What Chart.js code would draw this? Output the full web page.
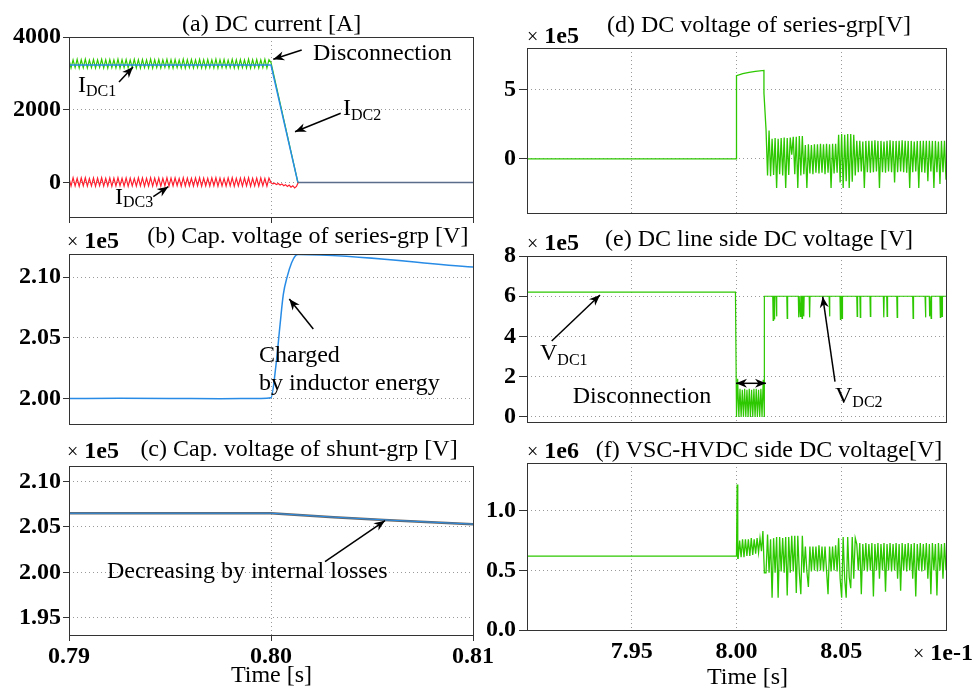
<!DOCTYPE html>
<html>
<head>
<meta charset="utf-8">
<script src="https://cdn.jsdelivr.net/npm/chart.js@4.4.1/dist/chart.umd.min.js"></script>
<style>
html, body { margin: 0; padding: 0; background: #fff; }
#wrap { position: relative; width: 974px; height: 693px; overflow: hidden; background: #fff; }
canvas { position: absolute; }
</style>
</head>
<body>
<div id="wrap">
  <canvas id="pa"></canvas>
  <canvas id="pb"></canvas>
  <canvas id="pc"></canvas>
  <canvas id="pd"></canvas>
  <canvas id="pe"></canvas>
  <canvas id="pf"></canvas>
</div>
<script>
// ---- time axis (s) ----
const tStart = 0.79, tCut = 0.80, tOff = 0.80133, tEnd = 0.81;
const leftTicks = [0.79, 0.80, 0.81];
const rightTicks = [0.79, 0.795, 0.80, 0.805, 0.81];

// ---- (a) DC current [A] ----
const idc2Level = 3230;
const idc1Ripple = [
  3380,3150,3370,3160,3385,3145,3375,3155,3390,3150,
  3365,3160,3380,3150,3370,3165,3385,3150,3375,3145,
  3380,3160,3370,3150,3390,3145,3375,3160,3380,3150,
  3365,3160,3385,3150,3375,3145,3380,3160,3370,3150,
  3390,3145,3375,3160,3380,3150,3370,3165,3385,3150,
  3375,3145,3380,3160,3365,3150,3390,3145,3375,3160,
  3380,3150,3370,3160,3385,3150,3375,3145,3380,3160,
  3370,3150,3390,3145,3375,3160,3380,3150,3365,3160,
  3385,3150,3375,3145,3380,3160,3370,3150,3390,3145,
  3375,3160,3380,3150,3370,3160,3385,3150,3375,3300
];
const idc3Ripple = [
  120,-100,130,-95,115,-105,125,-90,130,-100,
  110,-95,125,-105,120,-90,130,-100,115,-95,
  125,-105,120,-95,130,-90,115,-100,125,-105,
  120,-95,110,-100,130,-90,125,-105,115,-95,
  130,-100,120,-90,125,-105,115,-95,130,-100,
  120,-95,125,-90,110,-105,130,-100,120,-95,
  115,-100,125,-90,130,-105,120,-95,115,-100,
  125,-90,130,-105,120,-95,110,-100,125,-90,
  130,-105,115,-95,120,-100,125,-90,130,-105,
  115,-95,120,-100,125,-90,110,-100,120,-10
];
const idc3Tail = [-10,-40,-20,-60,-30,-70,-40,-90,-60,-110,-70,-130,-90,-150,-110,0];

// ---- (b) Cap. voltage of series-grp (x1e5 V) ----
const capSeriesTimes = [0.79, 0.7925, 0.795, 0.7975, 0.7995, 0.80, 0.80025, 0.80045, 0.80061, 0.80081, 0.80102, 0.80119, 0.80135, 0.81];
const capSeriesV     = [2.000, 2.0002, 2.0001, 1.9998, 2.0000, 2.0006, 2.028, 2.061, 2.0857, 2.1008, 2.1118, 2.1172, 2.1186, 2.1082];

// ---- (c) Cap. voltage of shunt-grp (x1e5 V) ----
const capShuntTimes = [0.79, 0.80, 0.8031, 0.8056, 0.81];
const capShuntV     = [2.065, 2.065, 2.0607, 2.0577, 2.053];

// ---- (d) DC voltage of series-grp (x1e5 V) ----
const dStepTimes = [0.79, 0.80, 0.80, 0.8003, 0.8006, 0.8009, 0.80131, 0.80131];
const dStepV     = [0, 0, 6.0, 6.15, 6.25, 6.32, 6.38, 4.76];
const dNoise = [
  2.1,-1.2,2.05,-1.25,1.45,-1.15,1.5,-2.1,1.45,-1.1,1.5,-1.2,1.55,-2.1,1.5,-1.15,1.55,0.3,1.6,-1.1,1.6,-2.1,1.65,-1.2,1.65,-1.1,
  1.0,-2.1,1.05,-1.05,1.0,-1.1,1.05,-1.0,1.05,-1.05,1.1,-1.0,1.05,-1.1,1.1,-1.0,1.05,-2.1,1.1,-1.05,1.1,-1.0,
  1.75,-1.7,1.8,-2.1,1.75,-1.6,1.8,-2.1,1.8,-1.65,1.75,-1.2,
  1.3,-0.95,1.3,-0.9,1.25,-2.1,1.3,-0.95,1.3,-1.0,1.3,-0.95,1.35,-0.9,1.3,-2.1,1.3,-0.95,1.25,-1.0,
  1.3,-0.9,1.35,-0.95,1.3,-1.7,1.3,-0.95,1.3,-0.9,1.35,-0.95,1.3,-1.0,1.3,-2.1,1.3,-0.95,1.25,-0.9,
  1.3,-2.1,1.3,-0.95,1.3,-1.0,1.3,-1.6,1.3,-0.9,1.3,-2.1,1.3,-0.95,1.25,-1.8,1.3,-0.95,1.3,-1.5
];

// ---- (e) DC line side DC voltage (x1e5 V) ----
const vdc1Level = 6.2, vdc2Level = 6.0;
const eGap = [0,1.9,0,1.4,0,1.35,0,1.4,0,1.35,0,1.4,0,1.35,0,1.4,0,1.4,0,1.35,0,1.4,0,1.85,0];
const vdc2SpikeTimes  = [0.80173,0.80179,0.80189,0.80240,0.80295,0.80303,0.80311,0.80319,0.80347,0.80442,0.80494,0.80502,
                         0.80574,0.80589,0.80637,0.80701,0.80717,0.80765,0.80841,0.80900,0.80920,0.80927,0.80971,0.80979];
const vdc2SpikeDepths = [4.8,4.85,5.0,4.9,4.95,5.0,4.9,5.0,4.95,5.0,4.85,4.9,
                         5.0,4.95,5.0,4.95,5.0,4.95,4.9,4.95,5.0,4.9,4.95,5.0];

// ---- (f) VSC-HVDC side DC voltage (x1e6 V) ----
const fStepTimes = [0.79, 0.80, 0.80003, 0.80006];
const fStepV     = [0.62, 0.62, 1.22, 0.60];
const fGap = [0.60,0.75,0.61,0.76,0.61,0.76,0.62,0.76,0.62,0.77,0.63,0.76,0.64,0.77,0.65,0.77,0.66,0.83,0.48];
const fNoise = [
  0.48,0.80,0.48,0.76,0.27,0.77,0.48,0.78,0.27,0.78,0.49,0.77,0.48,0.78,0.29,0.78,0.48,0.79,0.49,0.79,0.31,0.79,0.48,0.30,0.79,0.48,
  0.70,0.49,0.36,0.70,0.49,0.70,0.50,0.70,0.49,0.71,0.50,0.70,0.49,0.70,0.50,0.30,0.70,0.49,0.70,0.50,0.71,0.49,
  0.77,0.43,0.27,0.78,0.43,0.27,0.78,0.44,0.35,0.78,0.43,0.77,
  0.72,0.50,0.73,0.30,0.72,0.50,0.73,0.49,0.72,0.50,0.73,0.28,0.72,0.50,0.73,0.43,0.72,0.50,0.73,0.32,
  0.72,0.50,0.73,0.49,0.72,0.50,0.73,0.43,0.72,0.33,0.73,0.50,0.72,0.49,0.73,0.50,0.72,0.43,0.73,0.28,
  0.72,0.50,0.73,0.49,0.72,0.50,0.73,0.43,0.72,0.30,0.73,0.50,0.72,0.29,0.73,0.50,0.72,0.43,0.73,0.50
];

// ---- helpers ----
const GREEN = 'rgb(45,200,0)', RED = 'rgb(255,30,45)', BLUE = 'rgb(40,140,230)', SLATE = 'rgb(90,110,140)';
const FONT = '"Liberation Serif", "Times New Roman", serif';

function spread(t0, t1, vals) {
  // evenly sampled signal between t0 and t1
  return vals.map((v, i) => ({ x: t0 + (t1 - t0) * i / (vals.length - 1), y: v }));
}
function pairs(ts, vs) {
  return ts.map((t, i) => ({ x: t, y: vs[i] }));
}
function line(points, color, width) {
  return { data: points, borderColor: color, borderWidth: width || 1, pointRadius: 0, tension: 0, fill: false };
}

function vdc2Points() {
  const pts = [{ x: tOff, y: vdc2Level }];
  vdc2SpikeTimes.forEach((t, i) => {
    pts.push({ x: t, y: vdc2Level }, { x: t + 0.00002, y: vdc2SpikeDepths[i] }, { x: t + 0.00004, y: vdc2Level });
  });
  pts.push({ x: tEnd, y: vdc2Level });
  return pts;
}

// draws frame, titles, multipliers, labels and arrows
const decorPlugin = {
  id: 'decor',
  afterDraw(chart, args, o) {
    const ctx = chart.ctx, a = chart.chartArea, ox = o.box.x, oy = o.box.y;
    ctx.save();
    ctx.strokeStyle = '#333';
    ctx.lineWidth = 1;
    ctx.setLineDash([]);
    ctx.strokeRect(Math.round(a.left) + 0.5, Math.round(a.top) + 0.5, Math.round(a.right - a.left), Math.round(a.bottom - a.top));

    ctx.fillStyle = '#000';
    ctx.textBaseline = 'alphabetic';
    (o.texts || []).forEach(tx => {
      let total = 0;
      tx.runs.forEach(r => {
        ctx.font = (r[2] ? 'bold ' : '') + r[1] + 'px ' + FONT;
        total += ctx.measureText(r[0]).width;
      });
      let x = tx.x - ox;
      if (tx.align === 'center') x -= total / 2;
      tx.runs.forEach(r => {
        ctx.font = (r[2] ? 'bold ' : '') + r[1] + 'px ' + FONT;
        ctx.textAlign = 'left';
        ctx.fillText(r[0], x, tx.y - oy + (r[3] || 0));
        x += ctx.measureText(r[0]).width;
      });
    });

    ctx.strokeStyle = '#000';
    ctx.lineWidth = 1.5;
    (o.arrows || []).forEach(ar => {
      const x1 = ar[0] - ox, y1 = ar[1] - oy, x2 = ar[2] - ox, y2 = ar[3] - oy;
      ctx.beginPath();
      ctx.moveTo(x1, y1);
      ctx.lineTo(x2, y2);
      ctx.stroke();
      head(ctx, x1, y1, x2, y2);
      if (ar[4]) head(ctx, x2, y2, x1, y1);
    });
    ctx.restore();
  }
};
function head(ctx, x1, y1, x2, y2) {
  const ang = Math.atan2(y2 - y1, x2 - x1), L = 11, W = 4.5;
  ctx.beginPath();
  ctx.moveTo(x2, y2);
  ctx.lineTo(x2 - L * Math.cos(ang) + W * Math.sin(ang), y2 - L * Math.sin(ang) - W * Math.cos(ang));
  ctx.lineTo(x2 - L * 0.7 * Math.cos(ang), y2 - L * 0.7 * Math.sin(ang));
  ctx.lineTo(x2 - L * Math.cos(ang) - W * Math.sin(ang), y2 - L * Math.sin(ang) + W * Math.cos(ang));
  ctx.closePath();
  ctx.fillStyle = '#000';
  ctx.fill();
}

const tickFont = { family: FONT, size: 24, weight: 'bold' };

function makePanel(id, p) {
  const cv = document.getElementById(id);
  const box = p.box, plot = p.plot;
  cv.width = box.w; cv.height = box.h;
  cv.style.left = box.x + 'px'; cv.style.top = box.y + 'px';
  const yW = p.right ? 40 : 60, xH = p.xH;
  const yTl = p.right ? 8 : 6, yPad = p.right ? 3 : 2;
  new Chart(cv, {
    type: 'line',
    data: { datasets: p.datasets },
    options: {
      responsive: false,
      animation: false,
      events: [],
      layout: { padding: { left: plot.l - box.x - yW, top: plot.t - box.y, right: box.x + box.w - plot.r, bottom: box.y + box.h - plot.b - xH } },
      plugins: {
        legend: { display: false },
        tooltip: { enabled: false },
        decor: { box: box, texts: p.texts, arrows: p.arrows }
      },
      scales: {
        x: {
          type: 'linear', min: tStart, max: tEnd,
          afterBuildTicks: s => { s.ticks = (p.right ? rightTicks : leftTicks).map(v => ({ value: v })); },
          afterFit: s => { s.height = xH; s.paddingLeft = 0; s.paddingRight = 0; },
          ticks: {
            display: !!p.xLabels, autoSkip: false, maxRotation: 0, minRotation: 0,
            font: tickFont, color: '#000', padding: p.xPad || 1,
            callback: (v, i, arr) => p.right
              ? ((i === 0 || i === arr.length - 1) ? '' : (v * 10).toFixed(2))
              : v.toFixed(2)
          },
          grid: { color: '#9a9a9a', lineWidth: 1, drawTicks: !!p.xTickMarks, tickLength: 6, tickColor: '#333', tickBorderDash: [] },
          border: { display: false, dash: [1, 3] }
        },
        y: {
          type: 'linear', min: p.yMin, max: p.yMax,
          afterBuildTicks: s => { s.ticks = p.yTicks.map(v => ({ value: v })); },
          afterFit: s => { s.width = yW; s.paddingTop = 0; s.paddingBottom = 0; },
          ticks: { font: tickFont, color: '#000', padding: yPad, autoSkip: false, callback: v => v.toFixed(p.yDec) },
          grid: { color: '#9a9a9a', lineWidth: 1, drawTicks: true, tickLength: yTl, tickColor: '#333', tickBorderDash: [] },
          border: { display: false, dash: [1, 3] }
        }
      }
    },
    plugins: [decorPlugin]
  });
}

const X = s => [['\u00d7', 20], [' ' + s, 24, true]];

makePanel('pa', {
  box: { x: 0, y: 0, w: 500, h: 230 }, plot: { l: 69, t: 37, r: 473, b: 217 }, xH: 10, xTickMarks: true,
  yMin: -950, yMax: 4000, yTicks: [0, 2000, 4000], yDec: 0,
  datasets: [
    line([{ x: tOff, y: 0 }, { x: tEnd, y: 0 }], SLATE, 1.5),
    line(pairs([tStart, tCut, tOff], [idc2Level, idc2Level, 0]), BLUE, 1.5),
    line(spread(tStart, tCut, idc1Ripple).concat([{ x: tOff, y: 0 }]), GREEN, 1.2),
    line(spread(tStart, tCut, idc3Ripple).concat(spread(tCut, 0.80135, idc3Tail)), RED, 1.2)
  ],
  texts: [
    { x: 271.7, y: 31, align: 'center', runs: [['(a) DC current [A]', 24]] },
    { x: 313, y: 60, runs: [['Disconnection', 24]] },
    { x: 78, y: 91.5, runs: [['I', 24], ['DC1', 16, false, 4]] },
    { x: 343, y: 115, runs: [['I', 24], ['DC2', 16, false, 5]] },
    { x: 115, y: 204, runs: [['I', 24], ['DC3', 16, false, 3]] }
  ],
  arrows: [[301.7, 50, 273.3, 59.3], [119, 82, 133, 67], [340.7, 113.3, 295, 131.7], [153.3, 196.7, 168.3, 186.7]]
});

makePanel('pb', {
  box: { x: 0, y: 224, w: 500, h: 210 }, plot: { l: 69, t: 254, r: 473, b: 424 }, xH: 8,
  yMin: 1.979, yMax: 2.119, yTicks: [2.00, 2.05, 2.10], yDec: 2,
  datasets: [
    Object.assign(line(pairs(capSeriesTimes, capSeriesV), BLUE, 1.5), { cubicInterpolationMode: 'monotone' })
  ],
  texts: [
    { x: 307.8, y: 243.3, align: 'center', runs: [['(b) Cap. voltage of series-grp [V]', 24]] },
    { x: 67, y: 248, runs: X('1e5') },
    { x: 259, y: 361.7, runs: [['Charged', 24]] },
    { x: 259, y: 390, runs: [['by inductor energy', 24]] }
  ],
  arrows: [[313.3, 329, 289.3, 299]]
});

makePanel('pc', {
  box: { x: 0, y: 434, w: 500, h: 259 }, plot: { l: 69, t: 466, r: 473, b: 635 }, xH: 30, xLabels: true, xTickMarks: true, xPad: 1,
  yMin: 1.931, yMax: 2.117, yTicks: [1.95, 2.00, 2.05, 2.10], yDec: 2,
  datasets: [
    line(pairs(capShuntTimes, capShuntV), BLUE, 1),
    line(pairs(capShuntTimes, capShuntV), '#666', 2.5)
  ],
  texts: [
    { x: 299, y: 456, align: 'center', runs: [['(c) Cap. voltage of shunt-grp [V]', 24]] },
    { x: 67, y: 458, runs: X('1e5') },
    { x: 107, y: 578, runs: [['Decreasing by internal losses', 24]] },
    { x: 271.5, y: 682, align: 'center', runs: [['Time [s]', 24]] }
  ],
  arrows: [[325, 561.7, 385, 520.7]]
});

makePanel('pd', {
  right: true, box: { x: 480, y: 0, w: 494, h: 230 }, plot: { l: 527, t: 48, r: 946, b: 213 }, xH: 8,
  yMin: -3.9, yMax: 8, yTicks: [0, 5], yDec: 0,
  datasets: [
    line(pairs(dStepTimes, dStepV).concat(spread(0.80141, tEnd, dNoise)), GREEN, 1.3)
  ],
  texts: [
    { x: 759, y: 31.7, align: 'center', runs: [['(d) DC voltage of series-grp[V]', 24]] },
    { x: 527, y: 43, runs: X('1e5') }
  ]
});

makePanel('pe', {
  right: true, box: { x: 480, y: 228, w: 494, h: 206 }, plot: { l: 527, t: 256, r: 946, b: 422 }, xH: 8,
  yMin: -0.25, yMax: 8, yTicks: [0, 2, 4, 6, 8], yDec: 0,
  datasets: [
    line(pairs([tStart, 0.79995], [vdc1Level, vdc1Level]).concat(spread(tCut, tOff, eGap)).concat(vdc2Points()), GREEN, 1.2)
  ],
  texts: [
    { x: 759, y: 245.7, align: 'center', runs: [['(e) DC line side DC voltage [V]', 24]] },
    { x: 527, y: 250, runs: X('1e5') },
    { x: 540, y: 360, runs: [['V', 24], ['DC1', 16, false, 5]] },
    { x: 572.7, y: 403, runs: [['Disconnection', 24]] },
    { x: 835, y: 403, runs: [['V', 24], ['DC2', 16, false, 4]] }
  ],
  arrows: [[551.7, 341, 600, 295], [835, 381.7, 822.7, 296.7], [736, 383.3, 766, 383.3, true]]
});

makePanel('pf', {
  right: true, box: { x: 480, y: 434, w: 494, h: 259 }, plot: { l: 527, t: 463, r: 946, b: 630 }, xH: 30, xLabels: true, xPad: 7,
  yMin: 0, yMax: 1.4, yTicks: [0, 0.5, 1.0], yDec: 1,
  datasets: [
    line(pairs(fStepTimes, fStepV).concat(spread(0.80008, tOff, fGap)).concat(spread(0.80141, tEnd, fNoise)), GREEN, 1.3)
  ],
  texts: [
    { x: 769, y: 456.7, align: 'center', runs: [['(f) VSC-HVDC side DC voltage[V]', 24]] },
    { x: 527, y: 458, runs: X('1e6') },
    { x: 913, y: 660, runs: X('1e-1') },
    { x: 747.5, y: 684, align: 'center', runs: [['Time [s]', 24]] }
  ]
});
</script>
</body>
</html>
